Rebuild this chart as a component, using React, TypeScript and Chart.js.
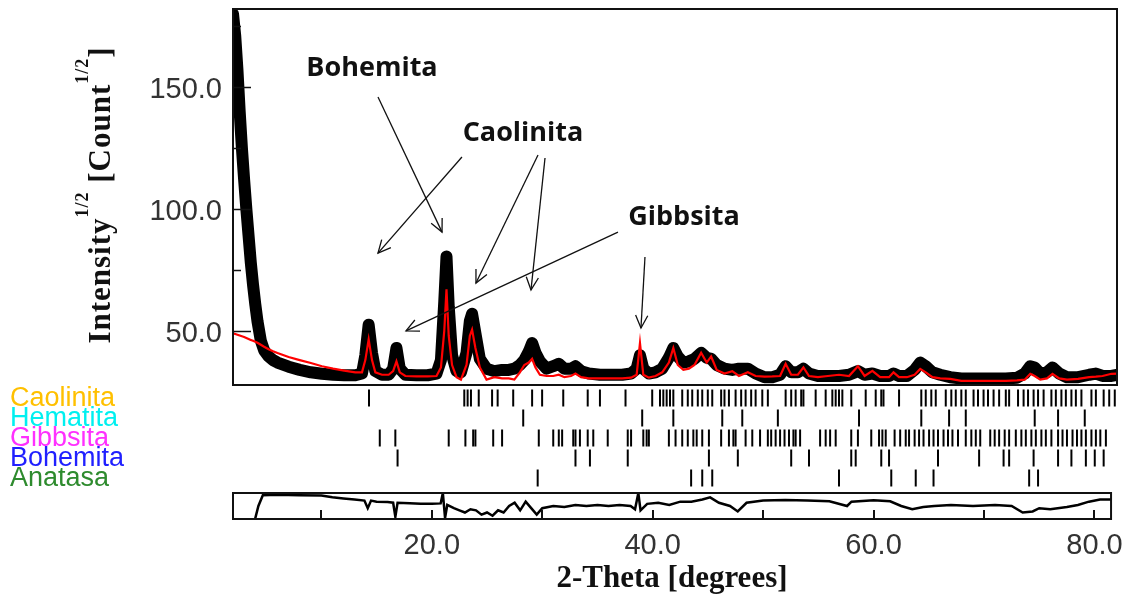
import { useEffect, useRef } from 'react';
import { Chart, registerables } from 'chart.js';

Chart.register(...registerables);

// ---------- DATA ----------
const twoTheta = [
  2.0, 2.2, 2.4, 2.6, 2.8, 3.0, 3.2, 3.4, 3.6, 3.8, 4.0, 4.2, 4.5, 4.8, 5.2, 5.6, 6.0, 7.0, 8.0, 9.0,
  10.0, 11.0, 12.0, 13.0, 13.6, 13.9, 14.2, 14.5, 14.8, 15.4, 16.0, 16.4, 16.7, 17.0, 17.5, 18.5, 19.5, 20.3, 20.7, 21.0,
  21.2, 21.4, 21.7, 22.1, 22.5, 23.0, 23.3, 23.5, 23.8, 24.2, 24.8, 25.5, 26.2, 26.8, 27.3, 27.8, 28.2, 28.6, 28.9, 29.2,
  29.6, 30.2, 30.8, 31.3, 31.8, 32.4, 32.8, 33.3, 34.0, 35.0, 36.0, 37.0, 37.8, 38.3, 38.6, 38.9, 39.4, 40.0, 40.6, 41.2,
  41.6, 42.0, 42.5, 43.0, 43.5, 44.1, 44.6, 45.0, 45.5, 46.2, 46.9, 47.5, 48.3, 49.0, 49.8, 50.5, 51.2, 51.7, 52.2, 52.8,
  53.3, 53.8, 54.6, 55.5, 56.5, 57.4, 58.2, 58.8, 59.5, 60.2, 61.0, 61.4, 61.9, 62.6, 63.3, 63.8, 64.3, 64.9, 65.6, 66.5,
  67.5, 68.5, 69.5, 70.5, 71.5, 72.5, 73.2, 73.7, 74.1, 74.6, 75.2, 75.7, 76.3, 77.0, 78.0, 79.0, 79.6, 80.2, 81.0, 81.5,
];

const observed = [
  180, 171, 157, 140, 125, 112, 100, 89, 78, 69, 61, 54, 46, 42, 39.5, 38, 37, 35.3, 34, 33,
  32.4, 32, 31.8, 31.8, 32.5, 40, 52.5, 41, 33.5, 32, 32, 34.5, 43, 34.5, 32, 31.8, 31.8, 32.5, 38, 62,
  80.5, 60, 40, 33.5, 33, 41, 54, 57, 49, 38.5, 34.5, 33.5, 34, 34, 34.5, 36, 38, 41.5, 45, 41,
  37.5, 34.5, 35.5, 36.5, 34.5, 34.5, 35.5, 33.5, 32.5, 32, 32, 32, 32.5, 34.5, 40, 34.5, 32.5, 33, 34.5, 39,
  43, 39.5, 37, 37.5, 38.5, 41, 39, 38.5, 36, 34.5, 34, 34.5, 34.5, 32.5, 31, 31, 32, 35.5, 33, 33,
  34.5, 32.5, 31.5, 31.5, 31.5, 32, 33.5, 32, 32.5, 31.5, 31.5, 32.5, 31.5, 31.5, 34, 37, 35.5, 33, 32, 31,
  30.5, 30.5, 30.5, 30.5, 30.5, 30.8, 32.5, 35.5, 35, 32.5, 33, 35, 32.5, 31, 31, 32, 32.5, 31.5, 31.5, 32,
];

const calculated = [
  49, 48.7, 48.4, 48.1, 47.8, 47.5, 47.1, 46.7, 46.3, 45.9, 45.5, 45.1, 44.3, 43.5, 42.5, 41.6, 40.9, 39.3, 38, 36.8,
  35.5, 34.5, 33.7, 33, 33, 38, 46.5, 38, 33, 32, 32, 33.5, 37.5, 33, 31.5, 31.3, 31.3, 31.5, 35, 50,
  67, 48, 36, 31, 30, 36, 48, 50.5, 43, 35, 30, 31, 30.5, 30.5, 30, 33, 36, 37, 38.5, 35,
  32, 31.5, 31.5, 32, 31, 31.5, 32.5, 31, 30.5, 30.5, 30.5, 30.5, 30.8, 32, 45, 32, 30.8, 31.5, 33, 37,
  43, 36, 34, 34.5, 36, 41, 37, 39.5, 34, 32.5, 33.5, 31.5, 33, 31.5, 31.2, 31.3, 31.5, 36.5, 32, 32,
  35, 31.5, 31, 31.5, 32, 31.5, 35.5, 31.5, 33.6, 31, 31, 33, 31, 31, 32, 34.4, 33, 31, 30.5, 30.3,
  29.5, 29.5, 29.5, 29.5, 29.5, 29.7, 30, 32.4, 31.5, 30, 30.5, 32.4, 30.5, 30, 30.3, 31, 31.2, 31.5, 32.4, 32.5,
];

const diffTheta = [
  3.9, 4.3, 4.7, 6, 8, 10, 11, 12, 13, 13.9, 14.2, 14.5, 15, 16, 16.5, 16.7, 16.9, 18, 19, 20,
  20.8, 21.0, 21.2, 21.4, 22, 22.5, 23, 23.5, 24, 24.5, 25, 25.5, 26, 26.5, 27, 27.5, 28, 28.5, 29, 29.5,
  30, 31, 32, 33, 34, 35, 36, 37, 38, 38.4, 38.7, 38.9, 39.5, 40.5, 41.5, 42.5, 43.5, 44.5, 45.2, 46,
  47, 47.7, 48.5, 50, 52, 54, 56, 57.6, 58, 60, 61.5, 62.5, 63.5, 64.5, 65.5, 67, 69, 71, 72.5, 73.5,
  74.4, 75, 76, 77.5, 78.5, 79.5, 80.5, 81.5,
];

const difference = [
  -8, 0, 5, 5.2, 5, 4.8, 4, 3.5, 3, 2.5, -1, 2.5, 2, 1.8, 1.5, -5, 1.5, 1.3, 1, 1,
  1.2, 6, -5.5, 0.5, -1, -2, -3, -1.5, -2, -4, -3, -4.5, -2, -3, 0, 1.5, -2, 2, -1, -4,
  -1, 0, -0.5, 0.5, 0, 0.5, 0, 0.5, 0, -1.5, 6, -2, 1, 1.5, 0.5, 2, 2, 3, 4, 1.5,
  0, -2.5, 1.5, 2.5, 2.8, 2.5, 2.2, 0, 2, 2.7, 2.2, 0, -1.5, -0.5, 0, 0.5, 0, 0.5, 0, -3,
  -2.5, -1, -1.5, -0.5, 0.5, 2, 3, 3,
];

const phaseNames = ['Caolinita', 'Hematita', 'Gibbsita', 'Bohemita', 'Anatasa'];
const phaseColors = ['#FFC000', '#00F0F0', '#FF30FF', '#2020FF', '#2E8B2E'];

const caolinitaTicks = [
  14.23, 22.8, 23.1, 23.4, 24.1, 25.3, 25.8, 27.2, 28.9, 29.8, 31.7, 33.9, 35.0, 37.3, 39.7, 40.4, 40.7, 41.0,
  41.3, 41.6, 42.4, 42.9, 43.3, 43.8, 44.2, 44.7, 45.1, 45.9, 46.2, 46.6, 47.2, 47.7, 48.1, 48.6, 49.0, 49.6,
  50.1, 51.7, 52.2, 52.6, 53.1, 53.3, 54.4, 55.3, 55.9, 56.2, 56.5, 56.8, 57.6, 58.9, 59.8, 60.3, 60.5, 61.9,
  63.9, 64.3, 64.8, 65.2, 66.1, 66.6, 67.0, 67.5, 67.9, 68.6, 69.0, 69.5, 69.9, 70.4, 70.9, 71.5, 71.8, 72.6,
  73.1, 73.5, 74.0, 74.4, 74.9, 75.6, 76.0, 76.5, 76.9, 77.4, 77.8, 78.3, 79.2, 79.6, 80.3, 80.8, 81.3,
];
const hematitaTicks = [28.1, 38.8, 41.6, 46.0, 47.8, 51.0, 58.3, 63.9, 66.4, 67.9, 74.1, 76.2, 78.6];
const gibbsitaTicks = [
  15.2, 16.6, 21.4, 22.9, 23.6, 23.8, 25.4, 26.2, 29.5, 30.8, 31.3, 31.6, 32.6, 32.8, 33.2, 33.9, 34.4, 35.7,
  37.5, 37.8, 38.9, 39.2, 39.4, 41.2, 41.8, 42.4, 42.9, 43.4, 43.7, 44.2, 44.8, 45.9, 46.6, 47.0, 47.2, 48.1,
  48.7, 49.4, 50.1, 50.4, 50.8, 51.2, 51.6, 52.0, 52.4, 52.6, 53.0, 54.8, 55.3, 55.7, 56.2, 57.6, 58.2, 59.4,
  60.1, 60.4, 60.7, 61.5, 62.0, 62.5, 62.8, 63.3, 63.7, 64.1, 64.6, 65.0, 65.4, 65.9, 66.3, 66.7, 67.2, 67.9,
  68.4, 68.8, 69.2, 70.1, 70.5, 70.9, 71.4, 71.8, 72.4, 72.9, 73.3, 73.8, 74.2, 74.7, 75.1, 75.6, 76.2, 76.6,
  77.0, 77.5, 77.9, 78.3, 78.7, 79.2, 79.6, 80.0, 80.5,
];
const bohemitaTicks = [
  16.8, 32.8, 34.1, 37.5, 44.8, 47.4, 52.2, 53.8, 57.6, 58.0, 60.3, 61.0, 65.4, 69.1, 71.3, 71.8, 74.0, 76.2,
  77.4, 78.7, 79.5, 80.3,
];
const anatasaTicks = [29.4, 43.2, 44.2, 45.1, 56.5, 61.2, 63.4, 65.0, 73.6, 74.4];
const phaseTicks = [caolinitaTicks, hematitaTicks, gibbsitaTicks, bohemitaTicks, anatasaTicks];

const yTickValues = [50, 75, 100, 125, 150, 175];
const xTickValues = [10, 20, 30, 40, 50, 60, 70, 80];

const annotationLabels = [
  { text: 'Bohemita', x: 14.5, y: 157.8 },
  { text: 'Caolinita', x: 28.08, y: 131.1 },
  { text: 'Gibbsita', x: 42.56, y: 96.7 },
];
const annotationArrows = [
  { x1: 15.04, y1: 145.9, x2: 20.8, y2: 90.5 },
  { x1: 22.59, y1: 121.3, x2: 15.04, y2: 81.9 },
  { x1: 29.43, y1: 122.1, x2: 23.85, y2: 69.6 },
  { x1: 30.06, y1: 120.9, x2: 28.8, y2: 66.8 },
  { x1: 36.62, y1: 90.5, x2: 17.56, y2: 50.0 },
  { x1: 39.05, y1: 80.3, x2: 38.69, y2: 51.2 },
];

const X_MIN = 2.0;
const X_MAX = 81.5;

// ---------- PLUGINS ----------
const framePlugin = {
  id: 'frame',
  afterDraw(chart: any) {
    const { ctx, chartArea } = chart;
    const { left, top, right, bottom } = chartArea;
    ctx.save();
    ctx.strokeStyle = '#111';
    ctx.lineWidth = 2;
    ctx.strokeRect(left, top, right - left, bottom - top);
    ctx.restore();
  },
};

const yInwardTicks = {
  id: 'yInwardTicks',
  afterDraw(chart: any) {
    const { ctx, chartArea } = chart;
    const s = chart.scales.y;
    ctx.save();
    ctx.strokeStyle = '#111';
    ctx.lineWidth = 1.5;
    yTickValues.forEach((v) => {
      const py = Math.round(s.getPixelForValue(v)) + 0.5;
      const len = v % 50 === 0 ? 18 : 8;
      ctx.beginPath();
      ctx.moveTo(chartArea.left, py);
      ctx.lineTo(chartArea.left + len, py);
      ctx.stroke();
    });
    ctx.restore();
  },
};

const xInwardTicks = {
  id: 'xInwardTicks',
  afterDraw(chart: any) {
    const { ctx, chartArea } = chart;
    const s = chart.scales.x;
    ctx.save();
    ctx.strokeStyle = '#111';
    ctx.lineWidth = 2;
    xTickValues.forEach((v) => {
      const px = Math.round(s.getPixelForValue(v));
      ctx.beginPath();
      ctx.moveTo(px, chartArea.bottom);
      ctx.lineTo(px, chartArea.bottom - 9);
      ctx.stroke();
    });
    ctx.restore();
  },
};

const annotationPlugin = {
  id: 'xrdAnnotations',
  afterDatasetsDraw(chart: any) {
    const { ctx } = chart;
    const sx = chart.scales.x;
    const sy = chart.scales.y;
    ctx.save();
    ctx.strokeStyle = '#111';
    ctx.lineWidth = 1.3;
    annotationArrows.forEach((a) => {
      const x1 = sx.getPixelForValue(a.x1);
      const y1 = sy.getPixelForValue(a.y1);
      const x2 = sx.getPixelForValue(a.x2);
      const y2 = sy.getPixelForValue(a.y2);
      ctx.beginPath();
      ctx.moveTo(x1, y1);
      ctx.lineTo(x2, y2);
      ctx.stroke();
      const ang = Math.atan2(y2 - y1, x2 - x1);
      const head = 14;
      const spread = 0.45;
      ctx.beginPath();
      ctx.moveTo(x2 - head * Math.cos(ang - spread), y2 - head * Math.sin(ang - spread));
      ctx.lineTo(x2, y2);
      ctx.lineTo(x2 - head * Math.cos(ang + spread), y2 - head * Math.sin(ang + spread));
      ctx.stroke();
    });
    ctx.fillStyle = '#111';
    ctx.font = '700 27px "Open Sans"';
    ctx.textAlign = 'center';
    ctx.textBaseline = 'middle';
    annotationLabels.forEach((l) => {
      ctx.fillText(l.text, sx.getPixelForValue(l.x), sy.getPixelForValue(l.y));
    });
    ctx.restore();
  },
};

const fitVertical = (width: number) => (s: any) => {
  s.width = width;
  s.paddingTop = 0;
  s.paddingBottom = 0;
};

export default function App() {
  const mainRef = useRef<HTMLCanvasElement>(null);
  const tickRef = useRef<HTMLCanvasElement>(null);
  const diffRef = useRef<HTMLCanvasElement>(null);

  useEffect(() => {
    const main = new Chart(mainRef.current as HTMLCanvasElement, {
      type: 'line',
      data: {
        datasets: [
          {
            label: 'Calculado',
            data: twoTheta.map((x, i) => ({ x, y: calculated[i] })),
            borderColor: '#ff0000',
            borderWidth: 2.2,
            pointRadius: 0,
            order: 0,
          },
          {
            label: 'Observado',
            data: twoTheta.map((x, i) => ({ x, y: observed[i] })),
            borderColor: '#000000',
            borderWidth: 12,
            borderJoinStyle: 'round',
            borderCapStyle: 'round',
            pointRadius: 0,
            order: 1,
          },
        ],
      },
      options: {
        animation: false,
        responsive: false,
        events: [],
        layout: { autoPadding: false, padding: { left: 0, right: 16, top: 9, bottom: 3 } },
        plugins: { legend: { display: false }, tooltip: { enabled: false } },
        scales: {
          x: { type: 'linear', min: X_MIN, max: X_MAX, display: false },
          y: {
            type: 'linear',
            min: 27.8,
            max: 182,
            afterBuildTicks: (s: any) => {
              s.ticks = yTickValues.map((v) => ({ value: v }));
            },
            afterFit: fitVertical(233),
            grid: { display: false, drawTicks: false },
            border: { display: false },
            ticks: {
              padding: 11,
              labelOffset: 3,
              autoSkip: false,
              font: { family: 'Liberation Sans', size: 29 },
              color: '#333',
              callback: (v: any) => (Number(v) % 50 === 0 ? Number(v).toFixed(1) : ''),
            },
          },
        },
      } as any,
      plugins: [yInwardTicks, annotationPlugin, framePlugin],
    });

    const ticks = new Chart(tickRef.current as HTMLCanvasElement, {
      type: 'scatter',
      data: {
        datasets: phaseTicks.map((list, k) => ({
          label: phaseNames[k],
          data: list.map((x) => ({ x, y: phaseNames[k] })),
          pointStyle: 'line',
          pointRadius: 8.5,
          pointRotation: 90,
          pointBorderColor: '#000',
          pointBorderWidth: 2,
          showLine: false,
        })),
      },
      options: {
        animation: false,
        responsive: false,
        events: [],
        layout: { autoPadding: false, padding: { left: 10, right: 16, top: 10, bottom: 0 } },
        plugins: { legend: { display: false }, tooltip: { enabled: false } },
        scales: {
          x: { type: 'linear', min: X_MIN, max: X_MAX, display: false },
          y: {
            type: 'category',
            labels: phaseNames,
            offset: true,
            afterFit: fitVertical(223),
            grid: { display: false, drawTicks: false },
            border: { display: false },
            ticks: {
              crossAlign: 'far',
              padding: 0,
              labelOffset: 1,
              autoSkip: false,
              font: { family: 'Liberation Sans', size: 27, lineHeight: 0.75 },
              color: (c: any) => phaseColors[c.index],
            },
          },
        },
      } as any,
    });

    const diff = new Chart(diffRef.current as HTMLCanvasElement, {
      type: 'line',
      data: {
        datasets: [
          {
            label: 'Diferencia',
            data: diffTheta.map((x, i) => ({ x, y: difference[i] })),
            borderColor: '#000',
            borderWidth: 2.5,
            pointRadius: 0,
          },
        ],
      },
      options: {
        animation: false,
        responsive: false,
        events: [],
        layout: { autoPadding: false, padding: { left: 233, right: 16, top: 5, bottom: 0 } },
        plugins: { legend: { display: false }, tooltip: { enabled: false } },
        scales: {
          x: {
            type: 'linear',
            min: X_MIN,
            max: X_MAX,
            afterBuildTicks: (s: any) => {
              s.ticks = xTickValues.map((v) => ({ value: v }));
            },
            afterFit: (s: any) => {
              s.height = 79;
            },
            grid: { display: false, drawTicks: false },
            border: { display: false },
            ticks: {
              padding: 10,
              maxRotation: 0,
              autoSkip: false,
              font: { family: 'Liberation Sans', size: 29 },
              color: '#333',
              callback: (v: any) => (Number(v) % 20 === 0 ? Number(v).toFixed(1) : ''),
            },
            title: {
              display: true,
              text: '2-Theta [degrees]',
              font: { family: 'Liberation Serif', size: 31, weight: 'bold' },
              color: '#111',
              padding: 0,
            },
          },
          y: { type: 'linear', min: -6, max: 6, display: false },
        },
      } as any,
      plugins: [xInwardTicks, framePlugin],
    });

    return () => {
      main.destroy();
      ticks.destroy();
      diff.destroy();
    };
  }, []);

  const supStyle: any = { fontSize: '0.58em', position: 'relative', top: '-1.25em' };

  return (
    <div style={{ position: 'absolute', left: 0, top: 0, width: 1133, height: 598, background: '#fff', overflow: 'hidden' }}>
      <canvas ref={mainRef} width={1133} height={388} style={{ position: 'absolute', left: 0, top: 0 }} />
      <canvas ref={tickRef} width={1133} height={110} style={{ position: 'absolute', left: 0, top: 378 }} />
      <canvas ref={diffRef} width={1133} height={110} style={{ position: 'absolute', left: 0, top: 488 }} />
      <div
        style={{
          position: 'absolute',
          left: 100 - 200,
          top: 195 - 18,
          width: 400,
          height: 36,
          lineHeight: '36px',
          textAlign: 'center',
          transform: 'rotate(-90deg)',
          fontFamily: "'Liberation Serif', serif",
          fontWeight: 'bold',
          fontSize: 31,
          letterSpacing: 1,
          color: '#111',
          whiteSpace: 'nowrap',
        }}
      >
        Intensity<span style={supStyle}>1/2</span> [Count<span style={supStyle}>1/2</span>]
      </div>
    </div>
  );
}
